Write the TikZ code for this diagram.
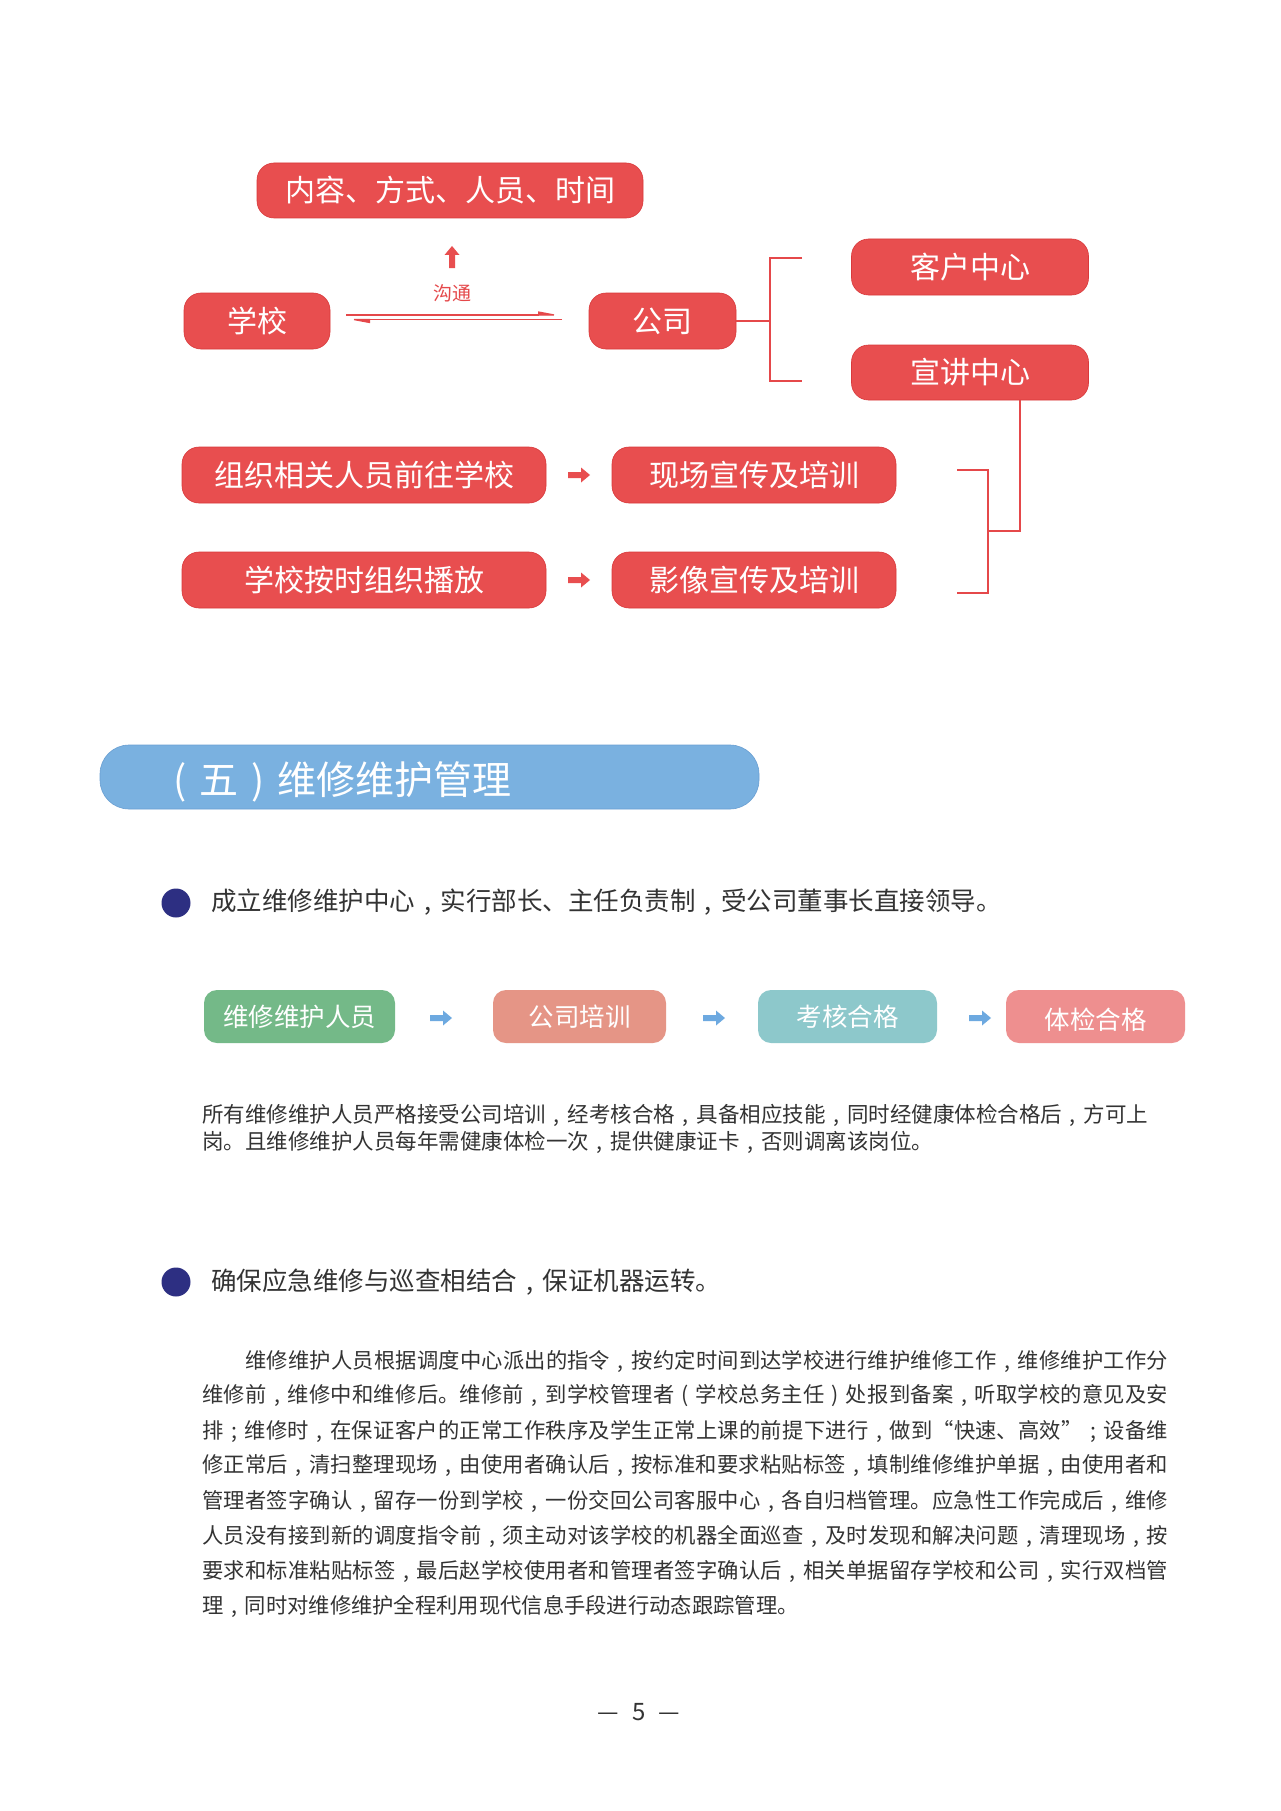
\documentclass[tikz,border=0pt]{standalone}
\usepackage{fontspec}
\setmainfont{Noto Sans CJK SC}
\usetikzlibrary{arrows.meta}
\XeTeXlinebreaklocale "zh"
\XeTeXlinebreakskip=0pt plus 1pt
\newcommand\setfs[1]{\fontsize{#1}{#1}\selectfont}
\newcommand\cm{\makebox[1em][c]{,}}
\newcommand\sm{\makebox[1em][c]{;}}
\newcommand\lp{\makebox[1em][c]{(}}
\newcommand\rp{\makebox[1em][c]{)}}
\definecolor{cRed}{HTML}{E84E4F}
\definecolor{cRedEdge}{HTML}{D9393B}
\definecolor{cRedLine}{HTML}{E5484A}
\definecolor{cBlue}{HTML}{7AB1E0}
\definecolor{cBlueEdge}{HTML}{6A9FD2}
\definecolor{cNavy}{HTML}{2D2F82}
\definecolor{cGreen}{HTML}{74B988}
\definecolor{cSalmon}{HTML}{E59586}
\definecolor{cTeal}{HTML}{8DC8CB}
\definecolor{cPink}{HTML}{EE8F8F}
\definecolor{cArrowBlue}{HTML}{6DA9E0}
\definecolor{cText}{HTML}{333333}
\begin{document}
\begin{tikzpicture}[x=1pt,y=-1pt,
  redbox/.style={fill=cRed, draw=cRedEdge, line width=0.6pt, rounded corners=17pt, inner sep=0pt, text=white, font=\setfs{30}},
  flowbox/.style={rounded corners=13pt, inner sep=0pt, minimum height=53pt, text=white, font=\setfs{25.5}},
  redline/.style={draw=cRedLine, line width=2pt},
  bodytext/.style={anchor=west, inner sep=0pt, text=cText},
  jline/.style={bodytext, text width=966pt, align=justify, font=\setfs{21.3}},
  blockarrow/.pic={\fill (0,-3) -- (13,-3) -- (13,-7.5) -- (22,0) -- (13,7.5) -- (13,3) -- (0,3) -- cycle;}
]
\fill[white] (0,0) rectangle (1280,1811);
\useasboundingbox (0,0) rectangle (1280,1811);

% ---------- top flow ----------
\node[redbox, minimum width=386pt, minimum height=55pt] (content) at (450,190.5) {内容、方式、人员、时间};
\pic[color=cRed, rotate=90] (upa) at (452,268) {blockarrow};
\node[text=cRedLine, font=\setfs{19}, inner sep=0pt] (goutong) at (452,293) {沟通};

\node[redbox, minimum width=146pt, minimum height=56pt] (xuexiao) at (257,321) {学校};
\node[redbox, minimum width=147pt, minimum height=56pt] (gongsi) at (662.5,321) {公司};

\coordinate (h1s) at (346,315); \coordinate (h1e) at (562,315);
\coordinate (h2s) at (562,319.5); \coordinate (h2e) at (346,319.5);
\draw[cRedLine, line width=1.4pt, -{Triangle[left, length=20pt, width=7pt]}] (h1s) -- (h1e);
\draw[cRedLine, line width=1.4pt, -{Triangle[left, length=20pt, width=7pt]}] (h2s) -- (h2e);

\node[redbox, minimum width=237pt, minimum height=56pt] (kehu) at (970,267) {客户中心};
\node[redbox, minimum width=237pt, minimum height=55pt] (xuanjiang) at (970,372.5) {宣讲中心};

\coordinate (brJ) at (770,321);
\coordinate (brT) at (802,258);
\coordinate (brB) at (802,381);
\draw[redline] (gongsi.east) -- (brJ);
\draw[redline] (brT) -- (770,258) -- (770,381) -- (brB);

\node[redbox, minimum width=364pt, minimum height=56pt] (zuzhi) at (364,475) {组织相关人员前往学校};
\node[redbox, minimum width=284pt, minimum height=56pt] (xianchang) at (754,475) {现场宣传及培训};
\node[redbox, minimum width=364pt, minimum height=56pt] (bofang) at (364,580) {学校按时组织播放};
\node[redbox, minimum width=284pt, minimum height=56pt] (yingxiang) at (754,580) {影像宣传及培训};
\pic[color=cRed] (ra1) at (568,475) {blockarrow};
\pic[color=cRed] (ra2) at (568,580) {blockarrow};

\coordinate (vTop) at (1020,400);
\coordinate (vJ) at (988,531);
\draw[redline] (vTop) -- (1020,531) -- (vJ);
\coordinate (rbT) at (957,470);
\coordinate (rbB) at (957,593);
\draw[redline] (rbT) -- (988,470) -- (988,593) -- (rbB);

% ---------- section title ----------
\node[fill=cBlue, draw=cBlueEdge, line width=0.6pt, rounded corners=29pt, minimum width=659pt, minimum height=64pt, inner sep=0pt] (titlebar) at (429.5,777) {};
\node[anchor=west, inner sep=0pt, text=white, font=\setfs{39}] (titletext) at (160,782) {\lp 五\rp 维修维护管理};

% ---------- bullet 1 ----------
\node[circle, fill=cNavy, minimum size=29pt, inner sep=0pt] (bul1) at (176,903) {};
\node[bodytext, font=\setfs{25.5}] (bt1) at (211,902) {成立维修维护中心\cm 实行部长、主任负责制\cm 受公司董事长直接领导。};

% ---------- flow row ----------
\node[flowbox, fill=cGreen, minimum width=191pt] (f1) at (299.5,1016.5) {维修维护人员};
\node[flowbox, fill=cSalmon, minimum width=173pt] (f2) at (579.5,1016.5) {公司培训};
\node[flowbox, fill=cTeal, minimum width=179pt] (f3) at (847.5,1016.5) {考核合格};
\node[flowbox, fill=cPink, minimum width=179pt] (f4) at (1095.5,1016.5) {\vphantom{体检合格}\smash{\raisebox{-3pt}{体检合格}}};
\pic[color=cArrowBlue] (ba1) at (430,1018) {blockarrow};
\pic[color=cArrowBlue] (ba2) at (703,1018) {blockarrow};
\pic[color=cArrowBlue] (ba3) at (969,1018) {blockarrow};

% ---------- paragraph 1 ----------
\node[bodytext, font=\setfs{21.5}] (p1a) at (202,1115) {所有维修维护人员严格接受公司培训\cm 经考核合格\cm 具备相应技能\cm 同时经健康体检合格后\cm 方可上};
\node[bodytext, font=\setfs{21.5}] (p1b) at (202,1142) {岗。且维修维护人员每年需健康体检一次\cm 提供健康证卡\cm 否则调离该岗位。};

% ---------- bullet 2 ----------
\node[circle, fill=cNavy, minimum size=29pt, inner sep=0pt] (bul2) at (176,1282) {};
\node[bodytext, font=\setfs{25.5}] (bt2) at (211,1282) {确保应急维修与巡查相结合\cm 保证机器运转。};

% ---------- paragraph 2 ----------
\node[jline] (l1) at (202,1361) {\noindent\tolerance=10000\parfillskip=0pt\hspace*{43pt}维修维护人员根据调度中心派出的指令\cm 按约定时间到达学校进行维护维修工作\cm 维修维护工作分\par};
\node[jline] (l2) at (202,1396) {\noindent\tolerance=10000\parfillskip=0pt 维修前\cm 维修中和维修后。维修前\cm 到学校管理者\lp 学校总务主任\rp 处报到备案\cm 听取学校的意见及安\par};
\node[jline] (l3) at (202,1431) {\noindent\tolerance=10000\parfillskip=0pt 排\sm 维修时\cm 在保证客户的正常工作秩序及学生正常上课的前提下进行\cm 做到“快速、高效”\sm 设备维\par};
\node[jline] (l4) at (202,1466) {\noindent\tolerance=10000\parfillskip=0pt 修正常后\cm 清扫整理现场\cm 由使用者确认后\cm 按标准和要求粘贴标签\cm 填制维修维护单据\cm 由使用者和\par};
\node[jline] (l5) at (202,1501) {\noindent\tolerance=10000\parfillskip=0pt 管理者签字确认\cm 留存一份到学校\cm 一份交回公司客服中心\cm 各自归档管理。应急性工作完成后\cm 维修\par};
\node[jline] (l6) at (202,1536) {\noindent\tolerance=10000\parfillskip=0pt 人员没有接到新的调度指令前\cm 须主动对该学校的机器全面巡查\cm 及时发现和解决问题\cm 清理现场\cm 按\par};
\node[jline] (l7) at (202,1571) {\noindent\tolerance=10000\parfillskip=0pt 要求和标准粘贴标签\cm 最后赵学校使用者和管理者签字确认后\cm 相关单据留存学校和公司\cm 实行双档管\par};
\node[bodytext, font=\setfs{21.3}] (l8) at (202,1606) {理\cm 同时对维修维护全程利用现代信息手段进行动态跟踪管理。};

% ---------- page number ----------
\node[inner sep=0pt, text=cText, font=\setfs{24}] (pagenum) at (639,1712) {—\hspace{13pt}5\hspace{13pt}—};
\end{tikzpicture}
\end{document}
